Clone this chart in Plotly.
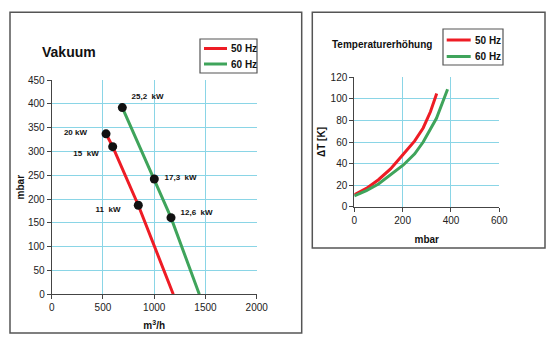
import plotly.graph_objects as go

# Left chart: Vakuum (flow m3/h vs mbar)
vak50_x = [530, 595, 845, 1000, 1186]
vak50_y = [337, 310, 187, 100, 0]
vak60_x = [689, 1001, 1164, 1440]
vak60_y = [392, 242, 161, 0]
pts_x = [530, 595, 845, 689, 1001, 1164]
pts_y = [337, 310, 187, 392, 242, 161]
pt_labels = ["20 kW", "15  kW", "11  kW", "25,2  kW", "17,3  kW", "12,6  kW"]
lab_x = [232, 335, 550, 935, 1257, 1413]
lab_y = [339, 294, 178, 414, 244, 170]

# Right chart: Temperaturerhöhung
t50_x = [0, 50, 100, 150, 200, 250, 285, 315, 341]
t50_y = [11, 17, 25, 35, 48, 61, 73, 88, 105]
t60_x = [0, 50, 100, 148, 203, 250, 285, 340, 386]
t60_y = [10, 15, 21, 29, 38.7, 49, 60, 82, 109]

series_names = ["50 Hz", "60 Hz"]

RED = "#ee1c25"
GREEN = "#3fa45b"
GRID = "#8ad5e6"
FONT = "Liberation Sans"

fig = go.Figure()
fig.add_trace(go.Scatter(x=vak50_x, y=vak50_y, mode="lines", line=dict(color=RED, width=3),
                         name=series_names[0], xaxis="x", yaxis="y", showlegend=False))
fig.add_trace(go.Scatter(x=vak60_x, y=vak60_y, mode="lines", line=dict(color=GREEN, width=3),
                         name=series_names[1], xaxis="x", yaxis="y", showlegend=False))
fig.add_trace(go.Scatter(x=pts_x, y=pts_y, mode="markers", marker=dict(color="#111111", size=9),
                         showlegend=False, xaxis="x", yaxis="y"))
fig.add_trace(go.Scatter(x=lab_x, y=lab_y, mode="text", text=pt_labels,
                         textfont=dict(family=FONT, size=8, color="#111111", weight="bold"),
                         showlegend=False, xaxis="x", yaxis="y"))
fig.add_trace(go.Scatter(x=t50_x, y=t50_y, mode="lines", line=dict(color=RED, width=3),
                         name=series_names[0], xaxis="x2", yaxis="y2", showlegend=False))
fig.add_trace(go.Scatter(x=t60_x, y=t60_y, mode="lines", line=dict(color=GREEN, width=3),
                         name=series_names[1], xaxis="x2", yaxis="y2", showlegend=False))

W, H = 549, 342
def px(x): return x / W
def py(y): return 1 - y / H

axis_common = dict(showgrid=True, gridcolor=GRID, gridwidth=1, showline=True, linecolor="#444444",
                   linewidth=1, ticks="outside", ticklen=4, tickcolor="#444444", zeroline=False,
                   tickfont=dict(family=FONT, size=10, color="#222222"), automargin=False, mirror=False)

shapes = [
    dict(type="rect", xref="paper", yref="paper", x0=px(10), x1=px(301.7), y0=py(333), y1=py(12.3),
         line=dict(color="#555555", width=1.5)),
    dict(type="rect", xref="paper", yref="paper", x0=px(312.3), x1=px(545), y0=py(248), y1=py(12.3),
         line=dict(color="#555555", width=1.5)),
]
annotations = [
    dict(text="Vakuum", xref="paper", yref="paper", x=px(40), y=py(52), xanchor="left", yanchor="middle",
         showarrow=False, font=dict(family=FONT, size=14, weight="bold", color="#111111")),
    dict(text="Temperaturerhöhung", xref="paper", yref="paper", x=px(330), y=py(45), xanchor="left",
         yanchor="middle", showarrow=False, font=dict(family=FONT, size=10, weight="bold", color="#111111")),
]

# manual legends (box, key lines, labels)
legends = [
    dict(box=(200, 39, 257, 73), lx=(204, 227), tx=229, ys=(48.5, 64)),
    dict(box=(443, 29, 503, 65), lx=(446.7, 470.7), tx=472.5, ys=(40, 56.5)),
]
for lg in legends:
    bx0, by0, bx1, by1 = lg["box"]
    shapes.append(dict(type="rect", xref="paper", yref="paper", x0=px(bx0), x1=px(bx1), y0=py(by1), y1=py(by0),
                       line=dict(color="#555555", width=1.2), fillcolor="white"))
    for name, col, yy in zip(series_names, [RED, GREEN], lg["ys"]):
        shapes.append(dict(type="line", xref="paper", yref="paper", x0=px(lg["lx"][0]), x1=px(lg["lx"][1]),
                           y0=py(yy), y1=py(yy), line=dict(color=col, width=3)))
        annotations.append(dict(text=name, xref="paper", yref="paper", x=px(lg["tx"]), y=py(yy),
                                xanchor="left", yanchor="middle", showarrow=False,
                                font=dict(family=FONT, size=10, weight="bold", color="#111111")))

fig.update_layout(
    width=W, height=H, margin=dict(l=0, r=0, t=0, b=0),
    paper_bgcolor="white", plot_bgcolor="white", showlegend=False,
    font=dict(family=FONT, color="#111111"),
    xaxis=dict(domain=[px(51.7), px(256.7)], range=[0, 2000], dtick=500, anchor="y",
               title=dict(text="m<sup>3</sup>/h", font=dict(family=FONT, size=10, weight="bold"), standoff=9),
               **axis_common),
    yaxis=dict(domain=[py(294.3), py(80)], range=[0, 450], dtick=50, anchor="x",
               title=dict(text="mbar", font=dict(family=FONT, size=10, weight="bold"), standoff=1),
               **axis_common),
    xaxis2=dict(domain=[px(354.3), px(499.3)], range=[0, 600], dtick=200, anchor="y2",
                title=dict(text="mbar", font=dict(family=FONT, size=10, weight="bold"), standoff=11),
                **axis_common),
    yaxis2=dict(domain=[py(206.7), py(77.3)], range=[0, 120], dtick=20, anchor="x2",
                title=dict(text="ΔT [K]", font=dict(family=FONT, size=10, weight="bold"), standoff=3),
                **axis_common),
    shapes=shapes,
    annotations=annotations,
)

fig.write_html("out.html")
